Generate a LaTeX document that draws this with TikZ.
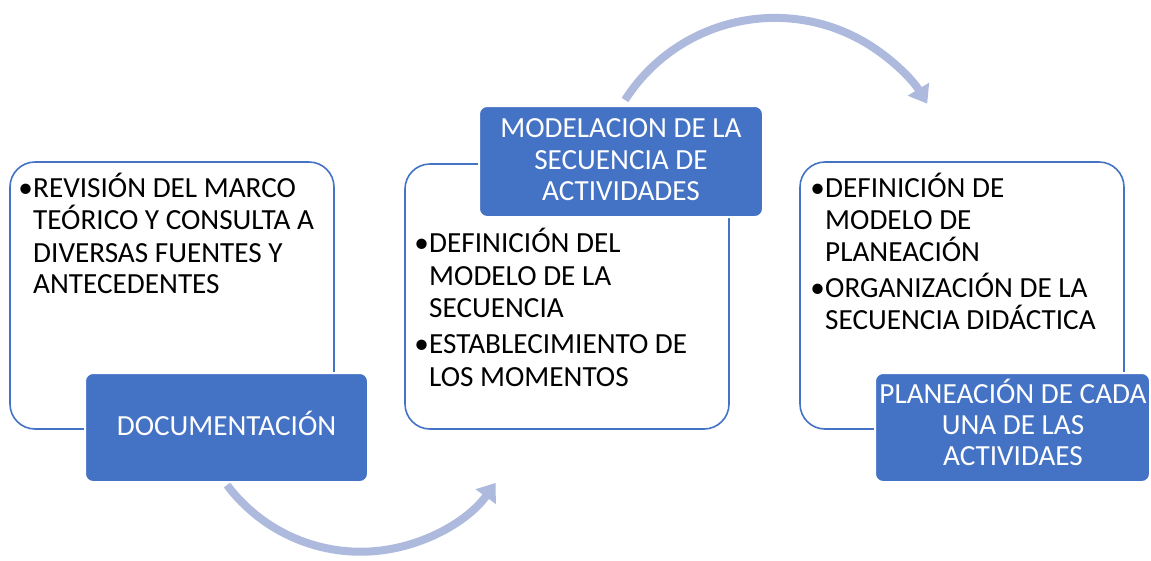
\documentclass[tikz,border=0pt]{standalone}
\usepackage{fontspec}
\setmainfont{Carlito}
\usetikzlibrary{arrows.meta}
\definecolor{accblue}{HTML}{4472C4}
\definecolor{arrowblue}{HTML}{ADBADD}
\tikzset{
  whitebox/.style={draw=accblue, line width=1.6pt, fill=white, rounded corners=25pt},
  bluebox/.style={draw=white, line width=2pt, fill=accblue, rounded corners=8pt},
  bodytext/.style={anchor=base west, inner sep=0pt, font=\fontsize{29.2}{34}\selectfont, text=black},
  bullettext/.style={anchor=base east, inner sep=0pt, font=\fontsize{29.2}{34}\selectfont, text=black},
  headtext/.style={anchor=base, inner sep=0pt, font=\fontsize{29.2}{34}\selectfont, text=white},
  flowarrow/.style={draw=arrowblue, line width=8pt, -{Triangle[width=24pt,length=17pt]}}
}
\begin{document}
\begin{tikzpicture}[x=1pt,y=-1pt]
\useasboundingbox (0,0) rectangle (1151,560);
% arrows
\coordinate (a1s) at (227,485);
\coordinate (a2s) at (625,100);
\draw[flowarrow] (a1s) arc[start angle=216.9, end angle=324, radius=167pt];
\draw[flowarrow] (a2s) arc[start angle=147.4, end angle=31.2, radius=178pt];
% white boxes
\draw[whitebox] (10,162) rectangle (334,429);
\draw[whitebox] (405,164) rectangle (729,429);
\draw[whitebox] (800,162) rectangle (1124,429);
% blue boxes
\draw[bluebox] (85,373) rectangle (368,482);
\draw[bluebox] (479,106) rectangle (763,217);
\draw[bluebox] (875,373) rectangle (1150,482);
% left texts
\node[bullettext] (b1) at (33,197) {•};
\node[bodytext] (t1a) at (33,197) {REVISIÓN DEL MARCO};
\node[bodytext] (t1b) at (33,229) {TEÓRICO Y CONSULTA A};
\node[bodytext] (t1c) at (33,262) {DIVERSAS FUENTES Y};
\node[bodytext] (t1d) at (33,293) {ANTECEDENTES};
\node[headtext] (h1) at (226.5,435) {DOCUMENTACIÓN};
% middle texts
\node[headtext] (h2a) at (621,137) {MODELACION DE LA};
\node[headtext] (h2b) at (621,169) {SECUENCIA DE};
\node[headtext] (h2c) at (621,200) {ACTIVIDADES};
\node[bullettext] (b2) at (429,252) {•};
\node[bodytext] (t2a) at (429,252) {DEFINICIÓN DEL};
\node[bodytext] (t2b) at (429,285) {MODELO DE LA};
\node[bodytext] (t2c) at (429,317) {SECUENCIA};
\node[bullettext] (b3) at (429,353) {•};
\node[bodytext] (t2d) at (429,353) {ESTABLECIMIENTO DE};
\node[bodytext] (t2e) at (429,386) {LOS MOMENTOS};
% right texts
\node[bullettext] (b4) at (825,197) {•};
\node[bodytext] (t3a) at (825,197) {DEFINICIÓN DE};
\node[bodytext] (t3b) at (825,229) {MODELO DE};
\node[bodytext] (t3c) at (825,261) {PLANEACIÓN};
\node[bullettext] (b5) at (825,297) {•};
\node[bodytext] (t3d) at (825,297) {ORGANIZACIÓN DE LA};
\node[bodytext] (t3e) at (825,329) {SECUENCIA DIDÁCTICA};
\node[headtext] (h3a) at (1013,403) {PLANEACIÓN DE CADA};
\node[headtext] (h3b) at (1013,434) {UNA DE LAS};
\node[headtext] (h3c) at (1013,465) {ACTIVIDAES};
\end{tikzpicture}
\end{document}
